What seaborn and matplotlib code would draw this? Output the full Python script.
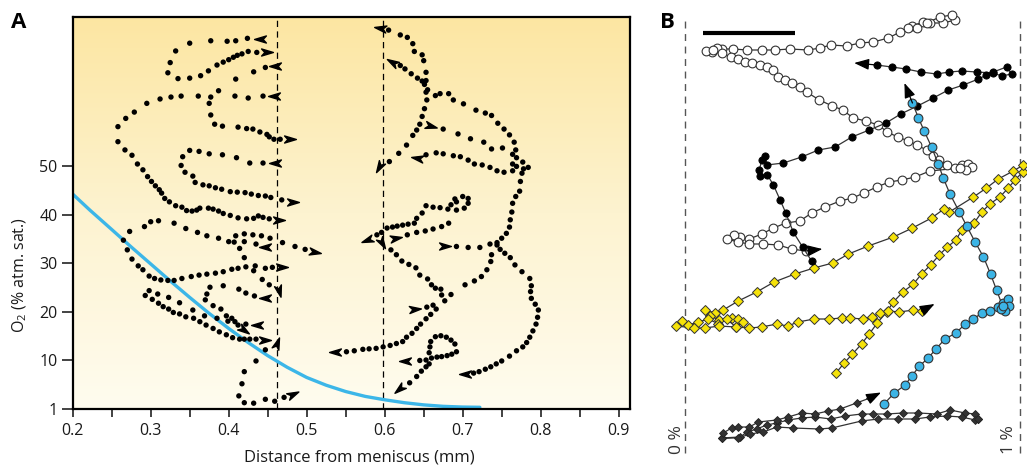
import numpy as np
import pandas as pd
import matplotlib
matplotlib.use("Agg")
import matplotlib.pyplot as plt
import seaborn as sns
from matplotlib.markers import MarkerStyle
from matplotlib.path import Path
from matplotlib.transforms import Affine2D
from matplotlib.colors import LinearSegmentedColormap

sns.set_theme(style="white")
plt.rcParams['font.family'] = ['Open Sans', 'DejaVu Sans']
plt.rcParams['mathtext.fontset'] = 'custom'
plt.rcParams['mathtext.rm'] = 'Open Sans'
plt.rcParams['text.color'] = '#1a1a1a'
plt.rcParams['axes.labelcolor'] = '#1a1a1a'
plt.rcParams['xtick.color'] = '#1a1a1a'
plt.rcParams['ytick.color'] = '#1a1a1a'

# ---------------- Panel A data (distance mm, O2 %) ----------------
a_cluster1 = [(0.424,76.4),(0.409,75.9),(0.398,75.8),(0.377,75.9),(0.350,75.4),(0.332,73.8),(0.325,71.4),(0.322,69.3),(0.335,68.1),(0.350,68.2),(0.364,68.7),(0.374,69.7),(0.385,70.9),(0.393,71.5),(0.400,72.0),(0.406,72.5),(0.411,72.9),(0.417,73.2),(0.425,73.7),(0.436,73.5),(0.409,68.0),(0.432,69.5),(0.447,70.4)]
a_cluster2 = [(0.295,63.0),(0.312,63.9),(0.326,64.3),(0.339,64.5),(0.361,64.5),(0.377,64.3),(0.387,65.6),(0.375,63.0),(0.377,60.6),(0.382,58.7),(0.392,58.3),(0.412,58.1),(0.423,57.8),(0.431,57.7),(0.440,57.1),(0.449,56.6),(0.452,56.1),(0.458,55.6),(0.466,55.6),(0.408,64.5),(0.425,64.1),(0.444,64.5),
              (0.279,61.2),(0.268,59.9),(0.258,58.2),(0.258,55.1),(0.267,53.4),(0.276,52.3),(0.283,50.5),(0.290,49.3),(0.296,47.9),(0.301,46.9),(0.306,46.0),(0.311,45.2),(0.314,44.5),(0.318,43.4),(0.324,42.7),(0.332,41.9),(0.340,41.6),(0.346,40.9),(0.353,40.8),(0.359,41.0),(0.363,41.4),(0.374,41.4),(0.380,41.2),(0.387,40.8),(0.393,40.3),(0.402,39.9),(0.412,39.4),(0.423,39.2),(0.432,39.3),(0.438,39.8),(0.444,39.5),(0.452,39.2)]
a_cluster3 = [(0.350,53.3),(0.362,53.1),(0.375,52.6),(0.392,52.4),(0.410,51.8),(0.427,50.7),(0.444,50.7),
              (0.341,52.0),(0.339,50.2),(0.344,48.8),(0.354,48.0),(0.357,46.7),(0.367,46.2),(0.375,46.0),(0.383,45.6),(0.391,45.3),(0.402,44.8),(0.411,44.7),(0.421,44.6),(0.429,44.3),(0.438,44.0),(0.447,43.9),(0.454,43.6),(0.468,43.1)]
a_cluster4 = [(0.273,36.6),(0.292,37.6),(0.300,38.6),(0.310,38.8),(0.330,38.3),(0.345,37.2),(0.360,36.4),(0.372,35.7),(0.387,35.2),(0.400,34.5),(0.407,34.4),(0.409,35.7),(0.420,36.1),(0.431,35.9),(0.442,35.7),(0.453,35.2),(0.420,34.5),(0.414,33.1),(0.435,34.0),(0.469,34.3),(0.485,33.5),(0.498,32.9),(0.420,31.2),
              (0.265,34.8),(0.270,32.8),(0.276,30.9),(0.284,29.5),(0.290,28.7),(0.298,27.4),(0.305,26.9),(0.313,26.6),(0.322,26.5),(0.330,26.5),(0.340,26.9),(0.352,27.3),(0.362,27.6),(0.372,27.8),(0.383,28.0),(0.393,28.3),(0.404,28.8),(0.412,29.0),(0.422,29.3),(0.434,29.5),(0.447,29.0),(0.456,29.2),(0.432,28.5),
              (0.443,26.7),(0.452,25.6),(0.376,25.1),(0.393,25.4),(0.413,24.7),(0.422,23.9),(0.433,23.3),(0.372,23.7),(0.370,22.5),(0.380,21.3),(0.390,20.6),(0.298,24.4),(0.293,23.4),(0.302,22.6),(0.309,23.7),(0.323,23.0),(0.310,21.8),(0.316,21.1),(0.323,20.6),(0.337,21.9)]
a_cluster5 = [(0.329,19.9),(0.337,19.6),(0.345,19.0),(0.355,18.7),(0.363,18.0),(0.371,17.3),(0.380,16.6),(0.388,15.9),(0.397,15.3),(0.405,14.7),(0.414,14.4),(0.420,14.4),(0.427,14.4),(0.435,14.4),(0.354,20.4),(0.369,19.2),(0.385,18.7),(0.397,19.2),(0.399,18.1),(0.404,18.7),(0.408,18.0),(0.412,17.3),(0.422,17.5),
              (0.447,12.2),(0.435,9.9),(0.420,7.7),(0.417,5.2),(0.413,2.7),(0.420,1.3),(0.432,1.2),(0.447,2.0),(0.459,1.6),(0.471,2.4)]
a_cluster6 = [(0.605,78.1),(0.620,77.1),(0.629,76.6),(0.636,75.3),(0.638,73.7),(0.648,73.0),(0.650,71.8),(0.653,69.4),(0.653,67.7),(0.651,66.9),(0.655,65.8),(0.653,65.3),(0.665,64.6),(0.671,65.0),(0.682,65.0),(0.688,63.7),(0.701,62.9),(0.717,61.6),(0.729,61.0),(0.737,60.5),(0.745,58.9),(0.753,57.7),(0.760,56.5),(0.766,55.0),(0.768,53.4),(0.764,52.5),(0.769,51.8),(0.777,50.9),(0.784,49.8),(0.776,48.6),(0.774,46.9),(0.773,44.9),(0.768,43.8),(0.764,42.4),(0.763,40.6),
              (0.620,70.8),(0.626,70.1),(0.634,69.1),(0.642,68.2),(0.648,67.6),
              (0.654,63.7),(0.651,61.9),(0.648,60.3),(0.645,58.7),(0.641,57.5),(0.636,56.4),(0.628,54.4),(0.618,52.7),(0.606,51.0),
              (0.675,57.7),(0.694,56.7),(0.710,55.7),(0.727,55.0),(0.737,53.6),(0.751,53.8),(0.764,50.5),
              (0.653,52.4),(0.666,52.8),(0.675,52.6),(0.688,52.2),(0.697,52.0),(0.707,51.3),(0.715,50.5),(0.725,50.3),(0.735,49.8),(0.744,49.1),(0.753,48.8),(0.764,49.1),(0.769,50.0),(0.778,49.5)]
a_cluster7 = [(0.653,41.9),(0.662,41.6),(0.671,41.5),(0.681,41.2),(0.685,42.1),(0.690,43.3),(0.700,43.8),(0.707,43.4),(0.702,41.4),(0.692,41.0),(0.707,42.4),(0.692,42.7),
              (0.648,40.4),(0.641,39.3),(0.638,38.3),(0.630,38.1),(0.623,37.9),(0.616,37.7),(0.610,37.5),(0.603,37.3),(0.596,36.4),(0.590,35.9),
              (0.682,38.3),(0.673,37.6),(0.662,37.1),(0.652,36.7),(0.641,36.4),(0.629,35.9),
              (0.608,32.8),(0.615,31.8),(0.622,30.5),(0.631,29.8),(0.640,29.1),(0.645,27.6),(0.655,26.8),(0.660,25.6),(0.665,24.9),(0.672,24.7),(0.673,23.5),(0.677,22.3),(0.685,23.6),(0.662,21.4),(0.654,21.0),
              (0.666,20.6),(0.659,19.5),(0.653,18.6),(0.646,17.5),(0.641,16.6),(0.635,15.6),(0.628,14.8),(0.623,13.9),(0.615,13.5),(0.607,13.1),(0.598,12.8),(0.589,12.5),(0.580,12.4),(0.572,12.3),(0.561,12.0),(0.551,11.8)]
a_cluster8 = [(0.761,39.0),(0.760,37.5),(0.756,36.2),(0.750,35.2),(0.744,34.3),(0.735,34.0),(0.692,33.5),(0.707,33.3),(0.722,33.3),(0.737,31.8),(0.736,30.4),(0.731,28.7),(0.724,27.3),(0.715,26.4),(0.703,25.6),
              (0.744,33.8),(0.748,32.9),(0.754,32.1),(0.761,31.2),(0.767,29.7),(0.776,28.3),(0.786,26.9),(0.788,25.4),(0.787,24.2),(0.788,22.8),(0.793,21.6),(0.797,20.4),(0.796,18.9),(0.794,17.5),(0.790,16.1),(0.786,14.8),(0.782,13.7),(0.777,12.8),(0.769,12.0),(0.760,10.9),(0.750,9.9),(0.743,9.3),(0.736,8.7),(0.729,8.2),(0.721,7.7),(0.714,7.4)]
a_cluster9 = [(0.665,14.9),(0.672,15.1),(0.679,14.8),(0.685,14.2),(0.690,13.4),(0.692,11.8),(0.686,11.3),(0.680,11.0),(0.673,10.8),(0.667,10.7),(0.660,10.5),(0.653,10.1),(0.645,10.0),
              (0.659,13.9),(0.658,12.8),(0.657,11.6),(0.657,9.3),(0.653,8.7),(0.647,7.8),(0.641,6.7),(0.632,5.4)]

# arrowheads: (x, y, heading in degrees on screen)
a_arrows = [(0.440,76.3,180),(0.449,73.5,0),(0.459,70.8,180),(0.458,64.5,180),(0.479,55.6,0),(0.464,39.0,0),
            (0.459,50.7,180),(0.483,42.7,0),(0.447,33.3,180),(0.511,32.4,-10),(0.468,29.2,0),(0.464,24.3,-75),
            (0.447,22.8,180),(0.447,14.2,0),(0.436,17.3,180),(0.419,16.3,-35),(0.462,13.7,70),(0.483,3.0,25),
            (0.594,78.5,170),(0.609,71.6,150),(0.593,49.8,-120),(0.660,58.4,-15),(0.641,51.8,170),(0.577,34.8,-160),
            (0.615,35.2,10),(0.596,34.2,-60),(0.639,20.6,5),(0.536,11.7,180),(0.677,33.5,0),(0.703,7.2,180),
            (0.626,9.8,180),(0.618,4.1,-140)]

profile_x = [0.200,0.222,0.250,0.275,0.300,0.325,0.350,0.375,0.400,0.425,0.450,0.475,0.500,0.525,0.550,0.575,0.600,0.625,0.650,0.675,0.700,0.722]
profile_y = [44.3,41.0,37.0,33.4,29.9,26.4,23.0,19.7,16.6,13.7,11.0,8.6,6.5,4.9,3.6,2.6,1.9,1.3,0.85,0.55,0.4,0.35]

a_xticks = [0.2,0.3,0.4,0.5,0.6,0.7,0.8,0.9]
a_yticks = [0,10,20,30,40,50]
a_yticklabels = ['1','10','20','30','40','50']
a_dashed = [0.4615, 0.598]

# ---------------- Panel B data (x: 0..1 %, y: position units) ----------------
b_open = [(0.677,4.24),(0.711,4.28),(0.731,4.27),(0.771,4.27),(0.806,4.30),(0.796,4.35),(0.761,4.33),(0.721,4.27),(0.692,4.22),(0.667,4.22),(0.642,4.18),(0.607,4.12),(0.562,4.08),(0.522,4.07),(0.483,4.04),(0.435,4.05),(0.403,4.02),(0.368,4.00),(0.313,4.01),(0.269,4.00),(0.229,4.00),(0.186,4.00),(0.144,4.01),(0.109,4.01),(0.095,4.02),(0.080,3.98),(0.063,3.99),(0.085,4.00),(0.109,3.97),(0.136,3.93),(0.159,3.91),(0.179,3.88),(0.201,3.87),(0.224,3.85),(0.244,3.83),(0.262,3.80),(0.279,3.73),(0.299,3.70),(0.318,3.67),(0.343,3.63),(0.363,3.58),(0.401,3.50),(0.440,3.44),(0.471,3.40),(0.502,3.32),(0.540,3.29),(0.577,3.25),(0.604,3.18),(0.635,3.13),(0.667,3.09),(0.692,3.05),(0.721,3.00),(0.741,2.94),(0.759,2.90),(0.781,2.85),(0.806,2.82),(0.826,2.85),(0.846,2.86),(0.856,2.83),(0.839,2.80),(0.821,2.82),(0.731,2.79),(0.687,2.73),(0.647,2.70),(0.610,2.68),(0.572,2.63),(0.534,2.57),(0.500,2.52),(0.463,2.49),(0.418,2.43),(0.378,2.37),(0.343,2.29),(0.301,2.27),(0.264,2.22),(0.229,2.16),(0.192,2.11),(0.164,2.13),(0.146,2.15),(0.124,2.11),(0.159,2.08),(0.192,2.06),(0.234,2.06),(0.279,2.05),(0.318,2.01),(0.360,1.99)]
b_open_arrow = (0.410, 2.01)
b_black = [(0.378,1.89),(0.351,2.03),(0.323,2.18),(0.301,2.37),(0.284,2.50),(0.264,2.65),(0.246,2.75),(0.224,2.74),(0.222,2.80),(0.229,2.90),(0.240,2.94),(0.244,2.85),(0.294,2.87),(0.348,2.93),(0.398,3.00),(0.448,3.03),(0.498,3.13),(0.550,3.20),(0.600,3.27),(0.644,3.36),(0.694,3.44),(0.741,3.52),(0.786,3.60),(0.831,3.65),(0.876,3.71),(0.900,3.75),(0.920,3.78),(0.960,3.83),(0.975,3.76),(0.945,3.74),(0.920,3.77),(0.871,3.78),(0.826,3.79),(0.789,3.78),(0.751,3.76),(0.704,3.78),(0.660,3.81),(0.617,3.83),(0.572,3.85)]
b_black_arrow = (0.505, 3.87)
b_blue = [(0.594,0.46),(0.625,0.57),(0.657,0.65),(0.677,0.74),(0.700,0.84),(0.726,0.92),(0.749,1.01),(0.776,1.11),(0.809,1.17),(0.836,1.26),(0.861,1.31),(0.886,1.37),(0.910,1.39),(0.935,1.43),(0.950,1.47),(0.965,1.51),(0.968,1.44),(0.955,1.39),(0.942,1.41),(0.948,1.44),(0.930,1.60),(0.912,1.76),(0.891,1.93),(0.866,2.08),(0.841,2.24),(0.819,2.38),(0.791,2.56),(0.771,2.72),(0.756,2.86),(0.736,3.03),(0.714,3.19),(0.697,3.32),(0.679,3.47)]
b_blue_arrow = (0.655, 3.67)
b_yellow = [(0.451,0.77),(0.475,0.87),(0.500,0.96),(0.527,1.06),(0.550,1.16),(0.574,1.27),(0.602,1.38),(0.622,1.48),(0.650,1.58),(0.682,1.66),(0.706,1.76),(0.733,1.85),(0.759,1.95),(0.783,2.03),(0.809,2.10),(0.826,2.20),(0.863,2.27),(0.886,2.38),(0.910,2.46),(0.940,2.53),(0.965,2.62),(0.985,2.70),(1.008,2.78),(1.010,2.85),(0.980,2.79),(0.935,2.71),(0.900,2.62),(0.861,2.53),(0.789,2.38),(0.773,2.41),(0.736,2.32),(0.679,2.22),(0.622,2.13),(0.547,2.04),(0.488,1.96),(0.441,1.87),(0.385,1.82),(0.328,1.76),(0.266,1.68),(0.214,1.58),(0.159,1.49),(0.114,1.40),(0.090,1.37),(0.060,1.40),(0.075,1.34),(0.102,1.30),(0.139,1.32),(0.159,1.31),(0.174,1.28),(0.152,1.23),(0.124,1.31),(0.100,1.26),(0.070,1.31),(0.040,1.28),(0.010,1.25),(-0.010,1.29),(-0.027,1.24),(0.027,1.22),(0.060,1.22),(0.102,1.24),(0.152,1.23),(0.192,1.22),(0.229,1.23),(0.274,1.26),(0.306,1.24),(0.338,1.28),(0.385,1.31),(0.431,1.31),(0.468,1.32),(0.493,1.32),(0.530,1.31),(0.558,1.33),(0.582,1.37),(0.607,1.39),(0.640,1.38),(0.682,1.40),(0.706,1.39)]
b_yellow_arrow = (0.745, 1.46)
b_dark_loop = [(0.876,0.31),(0.866,0.36),(0.836,0.37),(0.791,0.40),(0.751,0.36),(0.697,0.37),(0.650,0.37),(0.602,0.36),(0.562,0.36),(0.527,0.36),(0.478,0.34),(0.435,0.31),(0.388,0.33),(0.348,0.32),(0.308,0.30),(0.274,0.27),(0.244,0.25),(0.214,0.21),(0.186,0.18),(0.164,0.13),(0.109,0.12),(0.159,0.12),(0.194,0.16),(0.234,0.18),(0.274,0.23),(0.323,0.22),(0.401,0.21),(0.438,0.22),(0.527,0.29),(0.577,0.31),(0.637,0.31),(0.687,0.31),(0.731,0.33),(0.781,0.34),(0.826,0.33),(0.866,0.30),(0.876,0.31)]
b_dark_path = [(0.109,0.12),(0.114,0.17),(0.139,0.22),(0.159,0.23),(0.192,0.23),(0.219,0.28),(0.274,0.30),(0.308,0.33),(0.348,0.37),(0.388,0.36),(0.428,0.39),(0.463,0.41),(0.512,0.47),(0.552,0.52)]
b_dark_arrow = (0.585, 0.575)
b_scalebar_x = [0.053, 0.328]
b_scalebar_y = 4.17
b_bound_labels = ['0 %', '1 %']
b_bounds = [0.0, 1.0]

# ---------------- Figure ----------------
W, H = 1027, 466
fig = plt.figure(figsize=(W/100, H/100), dpi=100)

# Panel A
axA = fig.add_axes([72.7/W, 1-409/H, (630-72.7)/W, (409-17)/H])
axA.set_xlim(0.2, 0.9145)
axA.set_ylim(0, 80.8)

cmap = LinearSegmentedColormap.from_list('bg', ['#fffcef', '#fdf3d0', '#fce6a2'])
grad = np.linspace(0, 1, 256).reshape(-1, 1)
axA.imshow(grad, extent=[0.2, 0.9145, 0, 80.8], origin='lower', aspect='auto', cmap=cmap, zorder=0)

for xd in a_dashed:
    axA.axvline(xd, color='black', lw=0.9, ls=(0, (5, 3.5)), zorder=1)

sns.lineplot(x=profile_x, y=profile_y, sort=False, estimator=None, color='#3cb6e8', lw=2.4, ax=axA, zorder=2)

clusters = [a_cluster1, a_cluster2, a_cluster3, a_cluster4, a_cluster5, a_cluster6, a_cluster7, a_cluster8, a_cluster9]
dots = pd.DataFrame([p for c in clusters for p in c], columns=['x', 'y'])
sns.scatterplot(data=dots, x='x', y='y', s=15, color='black', edgecolor='none', ax=axA, zorder=3)

head_path = Path([(1, 0), (-1, 0.6), (-0.45, 0), (-1, -0.6), (1, 0)],
                 [Path.MOVETO, Path.LINETO, Path.LINETO, Path.LINETO, Path.CLOSEPOLY])
for (x, y, ang) in a_arrows:
    m = MarkerStyle(head_path, transform=Affine2D().rotate_deg(ang))
    axA.plot([x], [y], marker=m, ms=8.5, color='black', ls='none', zorder=4)

axA.set_xticks(a_xticks)
axA.set_xticklabels([f'{v:.1f}' for v in a_xticks])
axA.set_xticks([0.25, 0.35, 0.45, 0.55, 0.65, 0.75, 0.85], minor=True)
axA.set_yticks(a_yticks)
axA.set_yticklabels(a_yticklabels)
axA.tick_params(axis='both', which='both', direction='out', width=1.2, color='#222222',
                labelsize=11.5, bottom=True, left=True)
axA.tick_params(axis='x', which='both', length=6, pad=4)
axA.tick_params(axis='y', which='major', length=8, pad=3)
for s in axA.spines.values():
    s.set_linewidth(1.6)
    s.set_color('black')
axA.set_xlabel('Distance from meniscus (mm)', fontsize=12)
axA.set_ylabel('O$_2$ (% atm. sat.)', fontsize=11.5)
axA.xaxis.set_label_coords((359-72.7)/557.3, (409-449)/392)
axA.yaxis.set_label_coords((29-72.7)/557.3, (409-275)/392)
axA.grid(False)

# Panel B
axB = fig.add_axes([665/W, 1-460/H, (W-665)/W, (460-10)/H])
axB.set_xlim(-0.0597, 1.0209)
axB.set_ylim(-0.1, 4.4)
axB.set_axis_off()

for xb, lab in zip(b_bounds, b_bound_labels):
    axB.plot([xb, xb], [-0.03, 4.32], color='#555555', lw=1.0, ls=(0, (5, 4)), zorder=1)
    axB.text(xb - 0.025 if xb == 0 else xb - 0.033, 0.10, lab, rotation=90, ha='center', va='center',
             fontsize=12.5, color='#333333')

axB.plot(b_scalebar_x, [b_scalebar_y]*2, color='black', lw=3, solid_capstyle='butt')

def traj(points, arrow, marker, ms, face, edge, lw_edge, z):
    df = pd.DataFrame(points, columns=['x', 'y'])
    sns.lineplot(data=df, x='x', y='y', sort=False, estimator=None, color='#333333', lw=0.9,
                 marker=marker, markersize=ms, markerfacecolor=face, markeredgecolor=edge,
                 markeredgewidth=lw_edge, ax=axB, zorder=z)
    if arrow is not None:
        axB.annotate('', xy=arrow, xytext=points[-1],
                     arrowprops=dict(arrowstyle='-|>,head_length=0.75,head_width=0.28', color='black',
                                     lw=0.9, shrinkA=0, shrinkB=0), zorder=z)

traj(b_dark_loop, None, 'D', 3.8, '#333333', '#222222', 0.6, 3)
traj(b_dark_path, b_dark_arrow, 'D', 3.8, '#333333', '#222222', 0.6, 3)
traj(b_yellow, b_yellow_arrow, 'D', 4.6, '#f5e20a', '#333333', 0.7, 4)
traj(b_open, b_open_arrow, 'o', 6.3, 'white', '#333333', 0.8, 5)
traj(b_black, b_black_arrow, 'o', 5.2, 'black', 'black', 0.6, 6)
traj(b_blue, b_blue_arrow, 'o', 6.3, '#3cb4e5', '#333333', 0.8, 7)

fig.text(19/W, 1-23/H, 'A', fontsize=16, fontweight='bold', ha='center', va='center', color='black')
fig.text(667/W, 1-22/H, 'B', fontsize=16, fontweight='bold', ha='center', va='center', color='black')

fig.savefig('out.png', dpi=100)
